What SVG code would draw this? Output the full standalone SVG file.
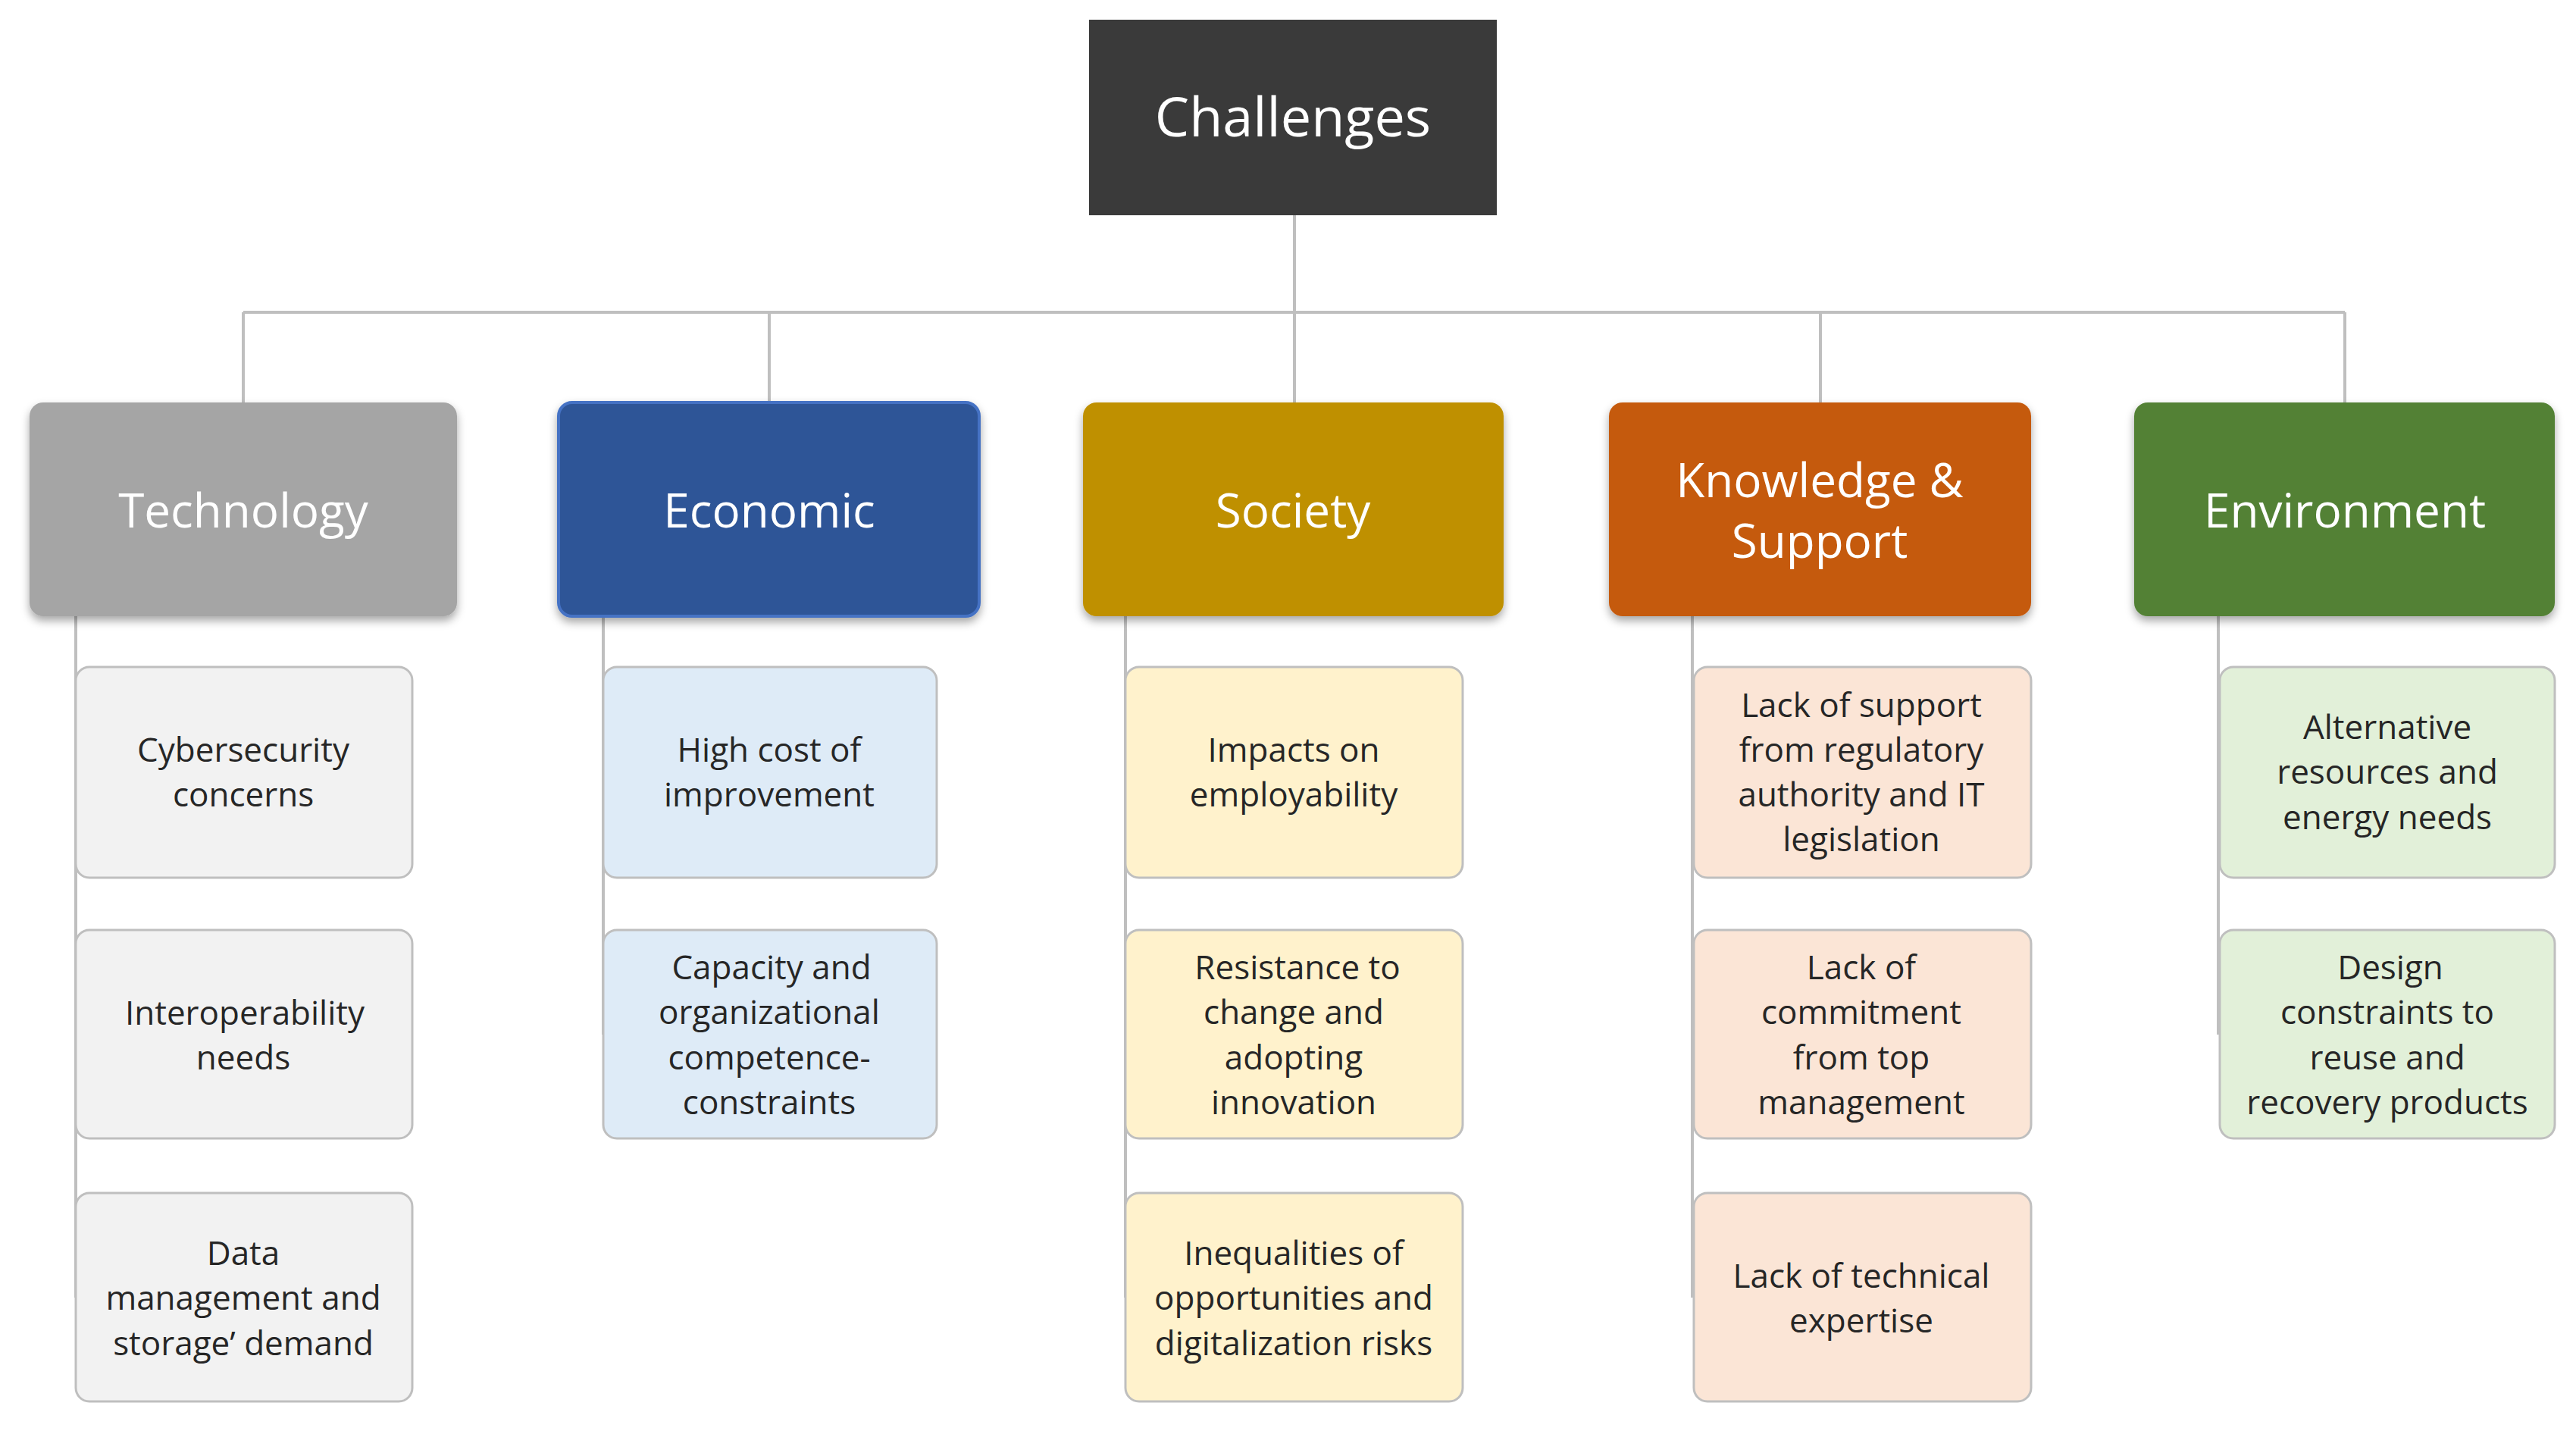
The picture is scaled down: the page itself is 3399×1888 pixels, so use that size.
<svg xmlns="http://www.w3.org/2000/svg" width="3399" height="1888" viewBox="0 0 3399 1888">
<style>
text{font-family:"Open Sans","Liberation Sans",sans-serif;text-anchor:middle;dominant-baseline:central}
.t0{fill:#fff;font-size:72px}
.t1{fill:#fff;font-size:62px}
.t2{fill:#262626;font-size:44px}
.c{fill:none;stroke:#BFBFBF;stroke-width:4}
.ch{stroke:#BFBFBF;stroke-width:3}
.g{fill:#F2F2F2}.b{fill:#DEEBF7}.y{fill:#FFF2CC}.o{fill:#FBE5D6}.gr{fill:#E2F0D9}
</style>
<defs><filter id="sh" x="-10%" y="-10%" width="120%" height="130%"><feDropShadow dx="0" dy="6" stdDeviation="6" flood-color="#000" flood-opacity="0.35"/></filter></defs>
<rect width="3399" height="1888" fill="#fff"/>
<g id="connectors">
<path class="c" d="M1708 284V412M321 412H3094M321 412V531M1015 412V531M1708 412V531M2402 412V531M3094 412V531"/>
<path class="c" d="M100 813V1712M796 813V1365M1485 813V1712M2233 813V1712M2927 813V1365"/>
</g>
<g id="challenges"><rect x="1437" y="26" width="538" height="258" fill="#3A3A3A"/><text class="t0" x="1706" y="152">Challenges</text></g>
<g id="technology"><rect x="39" y="531" width="564" height="282" rx="18" fill="#A5A5A5" filter="url(#sh)"/><text class="t1" x="321" y="672">Technology</text></g>
<g id="economic"><rect x="737" y="531" width="555" height="282" rx="18" fill="#2F5597" stroke="#4472C4" stroke-width="4" filter="url(#sh)"/><text class="t1" x="1015" y="672">Economic</text></g>
<g id="society"><rect x="1429" y="531" width="555" height="282" rx="18" fill="#BF9000" filter="url(#sh)"/><text class="t1" x="1706" y="672">Society</text></g>
<g id="knowledge"><rect x="2123" y="531" width="557" height="282" rx="18" fill="#C55A11" filter="url(#sh)"/><text class="t1" x="2401" y="632">Knowledge &amp;</text><text class="t1" x="2401" y="712">Support</text></g>
<g id="environment"><rect x="2816" y="531" width="555" height="282" rx="18" fill="#538135" filter="url(#sh)"/><text class="t1" x="3094" y="672">Environment</text></g>

<g id="tech1"><rect class="g ch" x="100" y="880" width="444" height="278" rx="18"/><text class="t2" x="321" y="988">Cybersecurity</text><text class="t2" x="321" y="1047">concerns</text></g>
<g id="tech2"><rect class="g ch" x="100" y="1227" width="444" height="275" rx="18"/><text class="t2" x="323" y="1335">Interoperability</text><text class="t2" x="321" y="1394">needs</text></g>
<g id="tech3"><rect class="g ch" x="100" y="1574" width="444" height="275" rx="18"/><text class="t2" x="321" y="1652">Data</text><text class="t2" x="321" y="1711">management and</text><text class="t2" x="321" y="1771">storage’ demand</text></g>

<g id="econ1"><rect class="b ch" x="796" y="880" width="440" height="278" rx="18"/><text class="t2" x="1015" y="988">High cost of</text><text class="t2" x="1015" y="1047">improvement</text></g>
<g id="econ2"><rect class="b ch" x="796" y="1227" width="440" height="275" rx="18"/><text class="t2" x="1018" y="1275">Capacity and</text><text class="t2" x="1015" y="1334">organizational</text><text class="t2" x="1015" y="1394">competence-</text><text class="t2" x="1015" y="1453">constraints</text></g>

<g id="soc1"><rect class="y ch" x="1485" y="880" width="445" height="278" rx="18"/><text class="t2" x="1707" y="988">Impacts on</text><text class="t2" x="1707" y="1047">employability</text></g>
<g id="soc2"><rect class="y ch" x="1485" y="1227" width="445" height="275" rx="18"/><text class="t2" x="1712" y="1275">Resistance to</text><text class="t2" x="1707" y="1334">change and</text><text class="t2" x="1707" y="1394">adopting</text><text class="t2" x="1707" y="1453">innovation</text></g>
<g id="soc3"><rect class="y ch" x="1485" y="1574" width="445" height="275" rx="18"/><text class="t2" x="1707" y="1652">Inequalities of</text><text class="t2" x="1707" y="1711">opportunities and</text><text class="t2" x="1707" y="1771">digitalization risks</text></g>

<g id="ks1"><rect class="o ch" x="2235" y="880" width="445" height="278" rx="18"/><text class="t2" x="2456" y="929">Lack of support</text><text class="t2" x="2456" y="988">from regulatory</text><text class="t2" x="2456" y="1047">authority and IT</text><text class="t2" x="2456" y="1106">legislation</text></g>
<g id="ks2"><rect class="o ch" x="2235" y="1227" width="445" height="275" rx="18"/><text class="t2" x="2456" y="1275">Lack of</text><text class="t2" x="2456" y="1334">commitment</text><text class="t2" x="2456" y="1394">from top</text><text class="t2" x="2456" y="1453">management</text></g>
<g id="ks3"><rect class="o ch" x="2235" y="1574" width="445" height="275" rx="18"/><text class="t2" x="2456" y="1682">Lack of technical</text><text class="t2" x="2456" y="1741">expertise</text></g>

<g id="env1"><rect class="gr ch" x="2929" y="880" width="442" height="278" rx="18"/><text class="t2" x="3150" y="958">Alternative</text><text class="t2" x="3150" y="1017">resources and</text><text class="t2" x="3150" y="1077">energy needs</text></g>
<g id="env2"><rect class="gr ch" x="2929" y="1227" width="442" height="275" rx="18"/><text class="t2" x="3154" y="1275">Design</text><text class="t2" x="3150" y="1334">constraints to</text><text class="t2" x="3150" y="1394">reuse and</text><text class="t2" x="3150" y="1453">recovery products</text></g>
</svg>
